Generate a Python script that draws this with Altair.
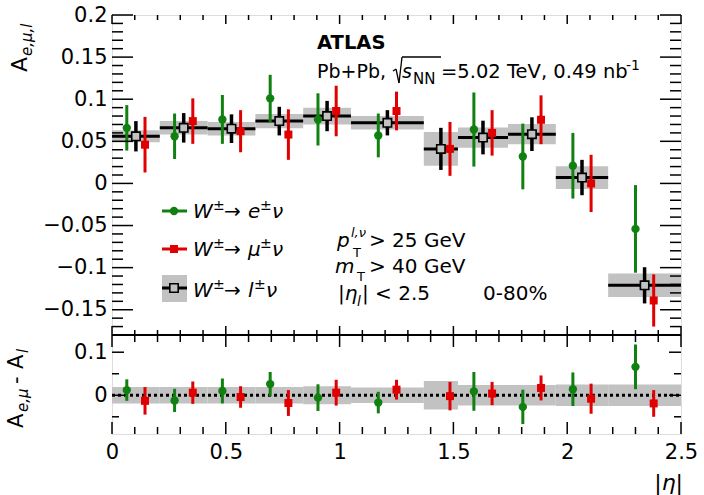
import altair as alt
import pandas as pd

# ---------------- values ----------------
bin_lo = [0.00, 0.21, 0.42, 0.63, 0.84, 1.05, 1.37, 1.52, 1.74, 1.95, 2.18]
bin_hi = [0.21, 0.42, 0.63, 0.84, 1.05, 1.37, 1.52, 1.74, 1.95, 2.18, 2.50]

# combined W -> l nu
eta_l = [0.105, 0.315, 0.525, 0.735, 0.945, 1.21, 1.445, 1.63, 1.845, 2.065, 2.34]
A_l = [0.056, 0.066, 0.065, 0.074, 0.080, 0.072, 0.041, 0.0545, 0.0585, 0.007, -0.121]
stat_l = [0.018, 0.0175, 0.017, 0.017, 0.018, 0.015, 0.025, 0.020, 0.020, 0.021, 0.0215]
syst_l = [0.007, 0.008, 0.008, 0.0085, 0.010, 0.008, 0.020, 0.012, 0.012, 0.0135, 0.014]
tot_l = [0.019, 0.019, 0.019, 0.019, 0.021, 0.018, 0.033, 0.024, 0.024, 0.025, 0.025]

# electron channel (no point in the 1.37-1.52 crack)
eta_e = [0.065, 0.275, 0.485, 0.695, 0.905, 1.17, 1.59, 1.805, 2.025, 2.30]
A_e = [0.066, 0.056, 0.076, 0.101, 0.076, 0.057, 0.064, 0.032, 0.021, -0.054]
err_e = [0.027, 0.027, 0.029, 0.028, 0.031, 0.026, 0.044, 0.039, 0.039, 0.052]
dA_e = [0.012, -0.012, 0.010, 0.026, -0.0055, -0.017, 0.009, -0.027, 0.014, 0.066]
derr_e = [0.025, 0.027, 0.029, 0.028, 0.031, 0.025, 0.045, 0.040, 0.039, 0.052]

# muon channel
eta_mu = [0.145, 0.355, 0.565, 0.775, 0.985, 1.25, 1.485, 1.67, 1.885, 2.105, 2.38]
A_mu = [0.046, 0.074, 0.062, 0.058, 0.086, 0.086, 0.041, 0.060, 0.0756, 0.000, -0.139]
err_mu = [0.033, 0.027, 0.025, 0.030, 0.030, 0.023, 0.032, 0.027, 0.029, 0.034, 0.031]
dA_mu = [-0.013, 0.006, -0.004, -0.018, 0.006, 0.013, -0.002, 0.004, 0.017, -0.008, -0.019]
derr_mu = [0.032, 0.026, 0.025, 0.030, 0.030, 0.023, 0.033, 0.027, 0.029, 0.035, 0.031]

# axis ticks
x_major = [0, 0.5, 1, 1.5, 2, 2.5]
x_minor = [v / 10 for v in range(1, 25) if v % 5]
yt_major = [-0.15, -0.1, -0.05, 0, 0.05, 0.1, 0.15, 0.2]
yt_minor = [v / 100 for v in range(-17, 20) if v % 5]
yb_major = [0, 0.1]
yb_minor = [-0.05, 0.05]

# ---------------- layout / style ----------------
OX, OY = 112, 15
W, HT, HB = 569, 320, 99
H = HT + HB
FONT = "DejaVu Sans"
GREEN = "#108010"
RED = "#e00000"
GRAY = "#c2c2c2"

lab = dict(labelFont=FONT, labelFontSize=21, labelColor="black", ticks=False, domain=False,
           grid=False, title=None, format="~g", labelFlush=False)
# identical x axis on every layer so that the shared axis merges cleanly
ax_x = alt.Axis(orient="bottom", values=x_major, labelPadding=7, **lab)
ax_yt = alt.Axis(orient="left", values=yt_major, labelPadding=5, **lab)
ax_yb = alt.Axis(orient="left", values=yb_major, labelPadding=5, **lab)

xs = alt.Scale(domain=[0, 2.5], nice=False, zero=False)
yt = alt.Scale(domain=[-0.18, 0.2], range=[HT, 0], nice=False, zero=False)
yb = alt.Scale(domain=[-0.09, 0.14], range=[H, HT], nice=False, zero=False)


def ex(f):
    return alt.X(f"{f}:Q", scale=xs, axis=ax_x)


def eyt(f, axis=None):
    return alt.Y(f"{f}:Q", scale=yt, axis=axis)


def eyb(f, axis=None):
    return alt.Y(f"{f}:Q", scale=yb, axis=axis)


dl = pd.DataFrame(dict(lo=bin_lo, hi=bin_hi, eta=eta_l, A=A_l, stat=stat_l, syst=syst_l, tot=tot_l))
de = pd.DataFrame(dict(eta=eta_e, A=A_e, err=err_e, d=dA_e, derr=derr_e))
dm = pd.DataFrame(dict(eta=eta_mu, A=A_mu, err=err_mu, d=dA_mu, derr=derr_mu))

ONE = pd.DataFrame({"k": [0]})


def xticks(vals, y0, y1):
    return alt.Chart(pd.DataFrame({"v": vals})).mark_rule(color="black", strokeWidth=1.5).encode(
        x=ex("v"), y=alt.value(y0), y2=alt.value(y1))


def yticks(vals, scale, x0, x1, axis=None):
    return alt.Chart(pd.DataFrame({"v": vals})).mark_rule(color="black", strokeWidth=1.5).encode(
        y=alt.Y("v:Q", scale=scale, axis=axis), x=alt.value(x0), x2=alt.value(x1))


layers = []

# ---- top panel ----
layers.append(
    alt.Chart(dl).transform_calculate(s0="datum.A - datum.syst", s1="datum.A + datum.syst")
    .mark_rect(color=GRAY).encode(x=ex("lo"), x2=alt.X2("hi"), y=eyt("s0"), y2=alt.Y2("s1"))
)
layers.append(
    alt.Chart(dl).mark_rule(color="black", strokeWidth=3).encode(x=ex("lo"), x2=alt.X2("hi"), y=eyt("A"))
)
for df, col in ((de, GREEN), (dm, RED)):
    layers.append(
        alt.Chart(df).transform_calculate(e0="datum.A - datum.err", e1="datum.A + datum.err")
        .mark_rule(color=col, strokeWidth=3).encode(x=ex("eta"), y=eyt("e0"), y2=alt.Y2("e1"))
    )
layers.append(alt.Chart(de).mark_circle(color=GREEN, size=70, opacity=1).encode(x=ex("eta"), y=eyt("A")))
layers.append(alt.Chart(dm).mark_square(color=RED, size=64, opacity=1).encode(x=ex("eta"), y=eyt("A")))
layers.append(
    alt.Chart(dl).transform_calculate(e0="datum.A - datum.stat", e1="datum.A + datum.stat")
    .mark_rule(color="black", strokeWidth=3.5).encode(x=ex("eta"), y=eyt("e0"), y2=alt.Y2("e1"))
)
layers.append(
    alt.Chart(dl).mark_square(fill=GRAY, stroke="black", strokeWidth=1.6, size=70, opacity=1, filled=True)
    .encode(x=ex("eta"), y=eyt("A"))
)

# ---- bottom panel ----
layers.append(
    alt.Chart(dl).transform_calculate(b0="-datum.tot", b1="datum.tot")
    .mark_rect(color=GRAY).encode(x=ex("lo"), x2=alt.X2("hi"), y=eyb("b0"), y2=alt.Y2("b1"))
)
layers.append(
    alt.Chart(pd.DataFrame({"z": [0.0]})).mark_rule(color="black", strokeWidth=3, strokeDash=[3, 3])
    .encode(x=alt.value(0), x2=alt.value(W), y=eyb("z"))
)
for df, col in ((de, GREEN), (dm, RED)):
    layers.append(
        alt.Chart(df).transform_calculate(e0="datum.d - datum.derr", e1="datum.d + datum.derr")
        .mark_rule(color=col, strokeWidth=3).encode(x=ex("eta"), y=eyb("e0"), y2=alt.Y2("e1"))
    )
layers.append(alt.Chart(de).mark_circle(color=GREEN, size=70, opacity=1).encode(x=ex("eta"), y=eyb("d")))
layers.append(alt.Chart(dm).mark_square(color=RED, size=64, opacity=1).encode(x=ex("eta"), y=eyb("d")))


# ---- frame divider and inward ticks ----
def seg(x1, y1, x2, y2, color="black", w=1.6):
    return alt.Chart(ONE).mark_rule(color=color, strokeWidth=w).encode(
        x=alt.value(x1), y=alt.value(y1), x2=alt.value(x2), y2=alt.value(y2))


layers.append(seg(0, HT, W, HT, w=1.8))

layers += [
    xticks(x_major, 0, 9), xticks(x_minor, 0, 5),
    xticks(x_major, HT - 9, HT), xticks(x_minor, HT - 5, HT),
    xticks(x_major, HT, HT + 12), xticks(x_minor, HT, HT + 7),
    xticks(x_major, H - 12, H), xticks(x_minor, H - 7, H),
    yticks(yt_major, yt, 0, 21, ax_yt), yticks(yt_minor, yt, 0, 11),
    yticks(yt_major, yt, W - 21, W), yticks(yt_minor, yt, W - 11, W),
    yticks(yb_major, yb, 0, 12, ax_yb), yticks(yb_minor, yb, 0, 7),
    yticks(yb_major, yb, W - 12, W), yticks(yb_minor, yb, W - 7, W),
]


# ---- annotations (page pixel coordinates) ----
def txt(s, x, y, size=20, italic=False, bold=False, align="left", angle=0):
    kw = dict(text=s, fontSize=size, font=FONT, align=align, baseline="alphabetic", color="black")
    if italic:
        kw["fontStyle"] = "italic"
    if bold:
        kw["fontWeight"] = "bold"
    if angle:
        kw["angle"] = angle
    return alt.Chart(ONE).mark_text(**kw).encode(x=alt.value(x - OX), y=alt.value(y - OY))


def pseg(x1, y1, x2, y2, color="black", w=1.5):
    return seg(x1 - OX, y1 - OY, x2 - OX, y2 - OY, color, w)


def pbox(x1, y1, x2, y2, color):
    return alt.Chart(ONE).mark_rect(color=color).encode(
        x=alt.value(x1 - OX), x2=alt.value(x2 - OX), y=alt.value(y1 - OY), y2=alt.value(y2 - OY))


def psym(x, y, kind, **kw):
    m = alt.Chart(ONE)
    m = m.mark_circle(opacity=1, **kw) if kind == "circle" else m.mark_square(opacity=1, **kw)
    return m.encode(x=alt.value(x - OX), y=alt.value(y - OY))


layers += [
    txt("ATLAS", 317, 49, size=19.5, bold=True),
    txt("Pb+Pb,", 317, 78, size=19),
    pseg(393, 71, 396, 69, w=1.3), pseg(396, 69, 399, 83, w=1.3),
    pseg(399, 83, 402, 57, w=1.3), pseg(402, 57, 441, 57, w=1.3),
    txt("s", 402, 78, size=19, italic=True),
    txt("NN", 413, 84, size=15),
    txt("=5.02 TeV, 0.49 nb", 441, 78, size=19.5),
    txt("-1", 626, 70, size=14),
    # cuts
    txt("p", 337, 247, size=20, italic=True),
    txt("T", 353, 257, size=13),
    txt("l,ν", 351, 237, size=13, italic=True),
    txt("> 25 GeV", 369, 247, size=20),
    txt("m", 335, 273, size=20, italic=True),
    txt("T", 357, 281, size=13),
    txt("> 40 GeV", 369, 273, size=20),
    txt("|η", 338, 300, size=20, italic=True),
    txt("l", 357, 306, size=14, italic=True),
    txt("| < 2.5", 362, 300, size=20),
    txt("0-80%", 483, 300, size=20),
    # legend symbols
    pseg(162, 211, 187, 211, GREEN, 3), psym(174, 211, "circle", color=GREEN, size=70),
    pseg(162, 249, 187, 249, RED, 3), psym(174, 249, "square", color=RED, size=64),
    pbox(162, 275, 187, 302, GRAY), pseg(162, 288, 187, 288, "black", 3),
    psym(174, 288, "square", fill=GRAY, stroke="black", strokeWidth=1.6, size=70, filled=True),
]
for base, letter, wl in ((218, "e", 12), (256, "μ", 12), (297, "l", 6)):
    layers += [
        txt("W", 193, base, italic=True),
        txt("±", 213, base - 8, size=14),
        txt("→", 224, base),
        txt(letter, 248, base, italic=True),
        txt("±", 248 + wl, base - 8, size=14),
        txt("ν", 248 + wl + 12, base, italic=True),
    ]

# axis titles (right-aligned to the top of each panel, ROOT style)
layers += [
    txt("A", 27, 72, size=22, angle=270),
    txt("e,μ,l", 32, 56, size=15, italic=True, angle=270),
    txt("A", 23, 428, size=21, angle=270),
    txt("e,μ", 28, 412, size=15, italic=True, angle=270),
    txt("-", 23, 384, size=21, angle=270),
    txt("A", 23, 369, size=21, angle=270),
    txt("l", 28, 353, size=15, italic=True, angle=270),
    txt("|η|", 683, 490, size=22, italic=True, align="right"),
]

chart = (
    alt.layer(*layers)
    .resolve_scale(y="independent")
    .properties(width=W, height=H, padding={"left": OX, "top": OY, "right": 704 - OX - W, "bottom": 495 - OY - H},
                autosize=alt.AutoSizeParams(type="none"))
    .configure_view(stroke="black", strokeWidth=1.8)
    .configure(background="white")
)

chart.save("out.html", embed_options={"renderer": "svg", "actions": False})
